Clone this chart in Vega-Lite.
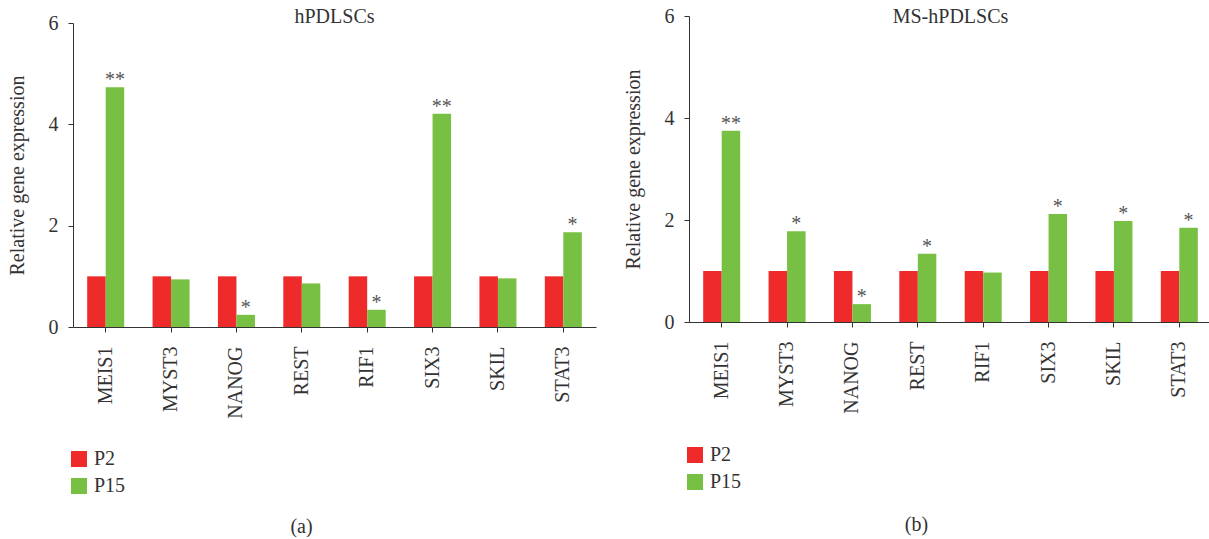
{
  "$schema": "https://vega.github.io/schema/vega-lite/v6.json",
  "padding": {"left": 7, "top": 6, "right": 0, "bottom": 0},
  "background": "white",
  "spacing": 27,
  "config": {
    "view": {"stroke": null},
    "font": "Liberation Serif",
    "axis": {
      "grid": false,
      "domainColor": "#333333",
      "tickColor": "#333333",
      "tickSize": 5,
      "labelFont": "Liberation Serif",
      "labelFontSize": 20,
      "labelColor": "#333333",
      "titleFont": "Liberation Serif",
      "titleFontSize": 20,
      "titleFontWeight": "normal",
      "titleColor": "#333333"
    },
    "legend": {
      "labelFont": "Liberation Serif",
      "labelFontSize": 20,
      "labelColor": "#333333"
    },
    "title": {
      "font": "Liberation Serif",
      "fontSize": 20,
      "fontWeight": "normal",
      "color": "#333333",
      "anchor": "middle",
      "baseline": "alphabetic",
      "frame": "group"
    }
  },
  "resolve": {"scale": {"color": "independent"}, "legend": {"color": "independent"}},
  "hconcat": [
    {
      "width": 523,
      "height": 304,
      "title": {"text": "hPDLSCs", "offset": -14},
      "data": {"values": [
        {"gene": "MEIS1", "passage": "P2", "value": 1.0, "sig": ""},
        {"gene": "MEIS1", "passage": "P15", "value": 4.73, "sig": "**"},
        {"gene": "MYST3", "passage": "P2", "value": 1.0, "sig": ""},
        {"gene": "MYST3", "passage": "P15", "value": 0.94, "sig": ""},
        {"gene": "NANOG", "passage": "P2", "value": 1.0, "sig": ""},
        {"gene": "NANOG", "passage": "P15", "value": 0.24, "sig": "*"},
        {"gene": "REST", "passage": "P2", "value": 1.0, "sig": ""},
        {"gene": "REST", "passage": "P15", "value": 0.86, "sig": ""},
        {"gene": "RIF1", "passage": "P2", "value": 1.0, "sig": ""},
        {"gene": "RIF1", "passage": "P15", "value": 0.34, "sig": "*"},
        {"gene": "SIX3", "passage": "P2", "value": 1.0, "sig": ""},
        {"gene": "SIX3", "passage": "P15", "value": 4.21, "sig": "**"},
        {"gene": "SKIL", "passage": "P2", "value": 1.0, "sig": ""},
        {"gene": "SKIL", "passage": "P15", "value": 0.96, "sig": ""},
        {"gene": "STAT3", "passage": "P2", "value": 1.0, "sig": ""},
        {"gene": "STAT3", "passage": "P15", "value": 1.87, "sig": "*"}
      ]},
      "encoding": {
        "x": {"field": "gene", "type": "nominal", "sort": null,
          "scale": {"paddingInner": 0.434, "paddingOuter": 0.217},
          "axis": {"labelAngle": -90, "labelPadding": 14, "title": "(a)", "titlePadding": 98, "titleX": 228}},
        "xOffset": {"field": "passage", "type": "nominal", "sort": ["P2", "P15"]},
        "y": {"field": "value", "type": "quantitative",
          "scale": {"domain": [0, 6]},
          "axis": {"values": [0, 2, 4, 6], "labelPadding": 10, "title": "Relative gene expression", "titlePadding": 21}}
      },
      "layer": [
        {
          "mark": {"type": "bar"},
          "encoding": {
            "color": {"field": "passage", "type": "nominal", "sort": ["P2", "P15"],
              "scale": {"domain": ["P2", "P15"], "range": ["#ee2a2a", "#78c043"]},
              "legend": {"orient": "none", "legendX": -4, "legendY": 426, "title": null, "padding": 0,
                "symbolType": "square", "symbolSize": 256, "symbolStrokeWidth": 0, "rowPadding": 7, "labelOffset": 5}}
          }
        },
        {
          "transform": [{"filter": "datum.sig != ''"}],
          "mark": {"type": "text", "baseline": "alphabetic", "dy": -1, "fontSize": 20, "color": "#555555"},
          "encoding": {"text": {"field": "sig"}}
        }
      ]
    },
    {
      "width": 523,
      "height": 299,
      "title": {"text": "MS-hPDLSCs", "offset": -21},
      "data": {"values": [
        {"gene": "MEIS1", "passage": "P2", "value": 1.0, "sig": ""},
        {"gene": "MEIS1", "passage": "P15", "value": 3.75, "sig": "**"},
        {"gene": "MYST3", "passage": "P2", "value": 1.0, "sig": ""},
        {"gene": "MYST3", "passage": "P15", "value": 1.78, "sig": "*"},
        {"gene": "NANOG", "passage": "P2", "value": 1.0, "sig": ""},
        {"gene": "NANOG", "passage": "P15", "value": 0.35, "sig": "*"},
        {"gene": "REST", "passage": "P2", "value": 1.0, "sig": ""},
        {"gene": "REST", "passage": "P15", "value": 1.34, "sig": "*"},
        {"gene": "RIF1", "passage": "P2", "value": 1.0, "sig": ""},
        {"gene": "RIF1", "passage": "P15", "value": 0.97, "sig": ""},
        {"gene": "SIX3", "passage": "P2", "value": 1.0, "sig": ""},
        {"gene": "SIX3", "passage": "P15", "value": 2.12, "sig": "*"},
        {"gene": "SKIL", "passage": "P2", "value": 1.0, "sig": ""},
        {"gene": "SKIL", "passage": "P15", "value": 1.98, "sig": "*"},
        {"gene": "STAT3", "passage": "P2", "value": 1.0, "sig": ""},
        {"gene": "STAT3", "passage": "P15", "value": 1.85, "sig": "*"}
      ]},
      "encoding": {
        "x": {"field": "gene", "type": "nominal", "sort": null,
          "scale": {"paddingInner": 0.434, "paddingOuter": 0.217},
          "axis": {"labelAngle": -90, "labelPadding": 14, "title": "(b)", "titlePadding": 101, "titleX": 227}},
        "xOffset": {"field": "passage", "type": "nominal", "sort": ["P2", "P15"]},
        "y": {"field": "value", "type": "quantitative",
          "scale": {"domain": [0, 6], "range": [299, -7]},
          "axis": {"values": [0, 2, 4, 6], "labelPadding": 10, "title": "Relative gene expression", "titlePadding": 21}}
      },
      "layer": [
        {
          "mark": {"type": "bar"},
          "encoding": {
            "color": {"field": "passage", "type": "nominal", "sort": ["P2", "P15"],
              "scale": {"domain": ["P2", "P15"], "range": ["#ee2a2a", "#78c043"]},
              "legend": {"orient": "none", "legendX": -4, "legendY": 422, "title": null, "padding": 0,
                "symbolType": "square", "symbolSize": 256, "symbolStrokeWidth": 0, "rowPadding": 7, "labelOffset": 5}}
          }
        },
        {
          "transform": [{"filter": "datum.sig != ''"}],
          "mark": {"type": "text", "baseline": "alphabetic", "dy": -1, "fontSize": 20, "color": "#555555"},
          "encoding": {"text": {"field": "sig"}}
        }
      ]
    }
  ]
}
